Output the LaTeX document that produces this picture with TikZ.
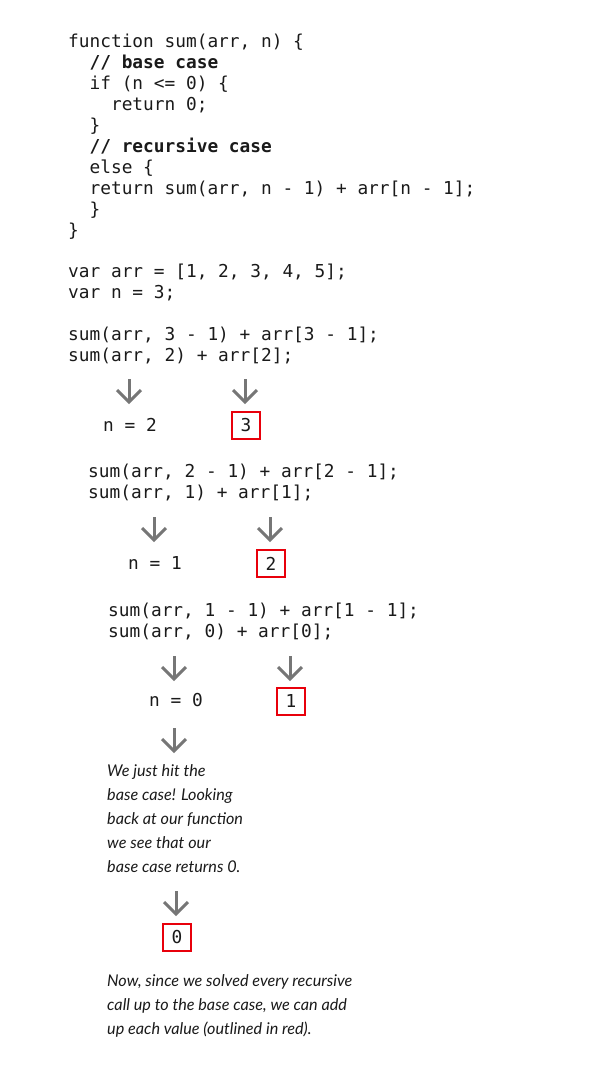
\documentclass[tikz,border=0pt]{standalone}
\usepackage{fontspec}
\setmonofont{DejaVu Sans Mono}
\newfontfamily\handfont{Lato}
\usetikzlibrary{calc}
\definecolor{arrowgray}{HTML}{767676}
\definecolor{boxred}{HTML}{E8000B}
\definecolor{codeink}{HTML}{1A1A1A}
\tikzset{
  code/.style={anchor=base west, inner sep=0pt, font=\fontsize{17.8}{21}\ttfamily, text=codeink},
  hand/.style={anchor=base west, inner sep=0pt, font=\fontsize{16.2}{24}\handfont\itshape, text=codeink},
  valbox/.style={draw=boxred, line width=2pt, minimum width=28pt, minimum height=27pt, inner sep=0pt, anchor=north west, font=\fontsize{17.8}{21}\ttfamily, text=codeink},
  downarrow/.style={draw=arrowgray, line width=3pt},
}
\newcommand{\dnarrow}[3]{%
  \coordinate (#1-top) at (#2,#3);
  \coordinate (#1-tip) at (#2,#3+23);
  \draw[downarrow] (#1-top) -- (#1-tip);
  \draw[downarrow, line join=miter] ($(#1-tip)+(-12,-12)$) -- (#1-tip) -- ($(#1-tip)+(12,-12)$);
}
\begin{document}
\begin{tikzpicture}[x=1pt,y=-1pt]
\useasboundingbox (0,0) rectangle (612,1084);
\fill[white] (0,0) rectangle (612,1084);
% function body
\node[code] (l1) at (68,47.5) {function sum(arr, n) \{};
\node[code] (l2) at (68,68.5) {\ \ \textbf{// base case}};
\node[code] (l3) at (68,89.5) {\ \ if (n <= 0) \{};
\node[code] (l4) at (68,110.5) {\ \ \ \ return 0;};
\node[code] (l5) at (68,131.5) {\ \ \}};
\node[code] (l6) at (68,152.5) {\ \ \textbf{// recursive case}};
\node[code] (l7) at (68,173.5) {\ \ else \{};
\node[code] (l8) at (68,194.5) {\ \ return sum(arr, n - 1) + arr[n - 1];};
\node[code] (l9) at (68,215.5) {\ \ \}};
\node[code] (l10) at (68,236.5) {\}};
% vars
\node[code] (v1) at (68,277.5) {var arr = [1, 2, 3, 4, 5];};
\node[code] (v2) at (68,298.5) {var n = 3;};
% block 1
\node[code] (a1) at (68,340.5) {sum(arr, 3 - 1) + arr[3 - 1];};
\node[code] (a2) at (68,361.5) {sum(arr, 2) + arr[2];};
\dnarrow{ar1}{129}{379}
\dnarrow{ar2}{245}{379}
\node[code] (n2) at (103,431.5) {n = 2};
\node[valbox] (b3) at (231,411) {3};
% block 2
\node[code] (c1) at (88,477.5) {sum(arr, 2 - 1) + arr[2 - 1];};
\node[code] (c2) at (88,498.5) {sum(arr, 1) + arr[1];};
\dnarrow{ar3}{154}{517}
\dnarrow{ar4}{270}{517}
\node[code] (n1) at (128,569.5) {n = 1};
\node[valbox] (b2) at (256,549) {2};
% block 3
\node[code] (d1) at (108,616) {sum(arr, 1 - 1) + arr[1 - 1];};
\node[code] (d2) at (108,637) {sum(arr, 0) + arr[0];};
\dnarrow{ar5}{174}{656}
\dnarrow{ar6}{290}{656}
\node[code] (n0) at (149,706.5) {n = 0};
\node[valbox] (b1) at (276,687) {1};
% base case
\dnarrow{ar7}{174}{728}
\node[hand] (t1a) at (107,776.7) {We just hit the};
\node[hand] (t1b) at (107,800.7) {base case! Looking};
\node[hand] (t1c) at (107,824.7) {back at our function};
\node[hand] (t1d) at (107,848.7) {we see that our};
\node[hand] (t1e) at (107,872.7) {base case returns 0.};
\dnarrow{ar8}{176}{891}
\node[valbox] (b0) at (162,923) {0};
\node[hand] (t2a) at (107,986.7) {Now, since we solved every recursive};
\node[hand] (t2b) at (107,1010.7) {call up to the base case, we can add};
\node[hand] (t2c) at (107,1034.7) {up each value (outlined in red).};
\end{tikzpicture}
\end{document}
